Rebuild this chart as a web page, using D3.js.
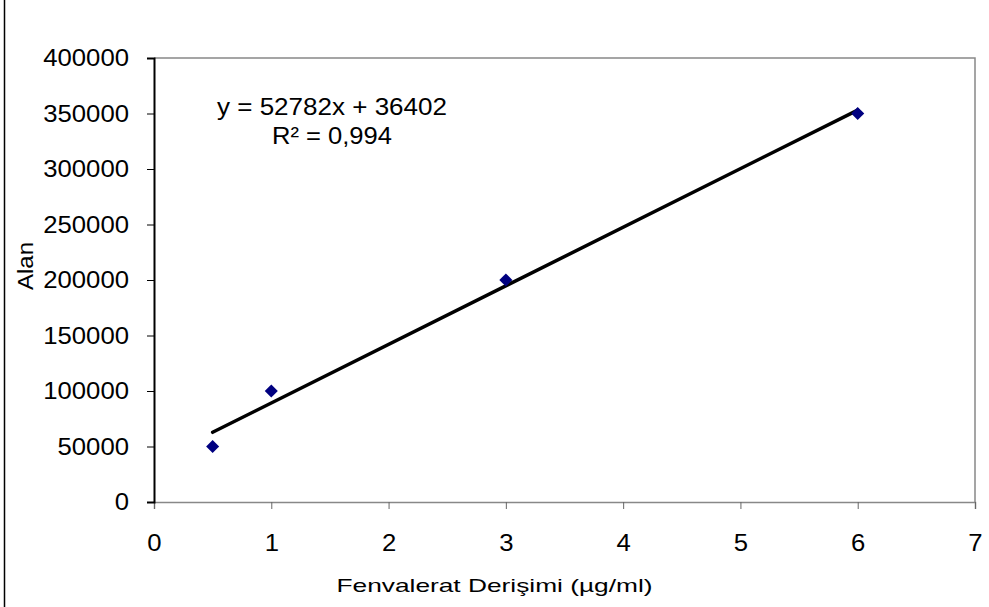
<!DOCTYPE html>
<html><head><meta charset="utf-8">
<script src="https://cdn.jsdelivr.net/npm/d3@7"></script>
<style>body{margin:0;background:#fff}svg{display:block}text{font-family:"Liberation Sans",Arial,sans-serif}</style>
</head><body>
<script>
const xValues = [0.5, 1, 3, 6];
const yValues = [50000, 100000, 200000, 350000];
const xTicks = [0, 1, 2, 3, 4, 5, 6, 7];
const yTicks = [0, 50000, 100000, 150000, 200000, 250000, 300000, 350000, 400000];
const slope = 52782, intercept = 36402;
const eqLabel = "y = 52782x + 36402";
const r2Label = "R² = 0,994";
const xTitle = "Fenvalerat Derişimi (µg/ml)";
const yTitle = "Alan";

const W = 989, H = 607;
const svg = d3.select("body").append("svg").attr("width", W).attr("height", H);
const L = 154, R = 975, T = 58, B = 502;
const x = d3.scaleLinear().domain([0, 7]).range([L, R]);
const y = d3.scaleLinear().domain([0, 400000]).range([B, T]);
const FONT = "Liberation Sans, Arial, sans-serif";

// outer left border
svg.append("line").attr("x1", 4.5).attr("x2", 4.5).attr("y1", 0).attr("y2", H).attr("stroke", "#000").attr("stroke-width", 1.5);

// plot frame (top and right gray)
svg.append("path").attr("d", `M${L},${T}H${R}V${B}`).attr("fill", "none").attr("stroke", "#888").attr("stroke-width", 1.5);

const xAxis = svg.append("g").attr("transform", `translate(0,${B})`)
  .call(d3.axisBottom(x).tickValues(xTicks).tickSize(7).tickPadding(25).tickFormat(d3.format("d")));
xAxis.select(".domain").attr("stroke", "#888").attr("stroke-width", 1.5);
xAxis.selectAll(".tick line").attr("stroke", "#666");
xAxis.selectAll("text").attr("font-size", 24).attr("fill", "#000").attr("font-family", FONT)
  .attr("textLength", d => String(d).length * 14.3).attr("lengthAdjust", "spacingAndGlyphs");

const yAxis = svg.append("g").attr("transform", `translate(${L},0)`)
  .call(d3.axisLeft(y).tickValues(yTicks).tickSize(7).tickPadding(18).tickFormat(d3.format("d")));
yAxis.select(".domain").attr("stroke", "#000").attr("stroke-width", 2);
yAxis.selectAll(".tick line").attr("stroke", "#000");
yAxis.selectAll("text").attr("font-size", 24).attr("fill", "#000").attr("font-family", FONT)
  .attr("textLength", d => String(d).length * 14.3).attr("lengthAdjust", "spacingAndGlyphs");

// trendline
const x0 = d3.min(xValues), x1 = d3.max(xValues);
svg.append("line")
  .attr("x1", x(x0)).attr("y1", y(slope * x0 + intercept))
  .attr("x2", x(x1)).attr("y2", y(slope * x1 + intercept))
  .attr("stroke", "#000").attr("stroke-width", 3.5).attr("stroke-linecap", "round");

// points
svg.append("g").selectAll("path").data(xValues).join("path")
  .attr("d", d3.symbol(d3.symbolSquare, 85)())
  .attr("transform", (d, i) => `translate(${x(d)},${y(yValues[i])}) rotate(45)`)
  .attr("fill", "#000080");

// equation
svg.append("text").attr("x", 332).attr("y", 115).attr("text-anchor", "middle").attr("font-size", 23.5)
  .attr("textLength", 230).attr("lengthAdjust", "spacingAndGlyphs").text(eqLabel);
svg.append("text").attr("x", 332).attr("y", 144).attr("text-anchor", "middle").attr("font-size", 23.5)
  .attr("textLength", 120).attr("lengthAdjust", "spacingAndGlyphs").text(r2Label);

// axis titles
svg.append("text").attr("x", 494.5).attr("y", 592).attr("text-anchor", "middle").attr("font-size", 19)
  .attr("textLength", 316).attr("lengthAdjust", "spacingAndGlyphs").text(xTitle);
svg.append("text").attr("transform", "translate(33,266) rotate(-90)").attr("text-anchor", "middle").attr("font-size", 22)
  .attr("textLength", 48).attr("lengthAdjust", "spacingAndGlyphs").text(yTitle);
</script>
</body></html>
